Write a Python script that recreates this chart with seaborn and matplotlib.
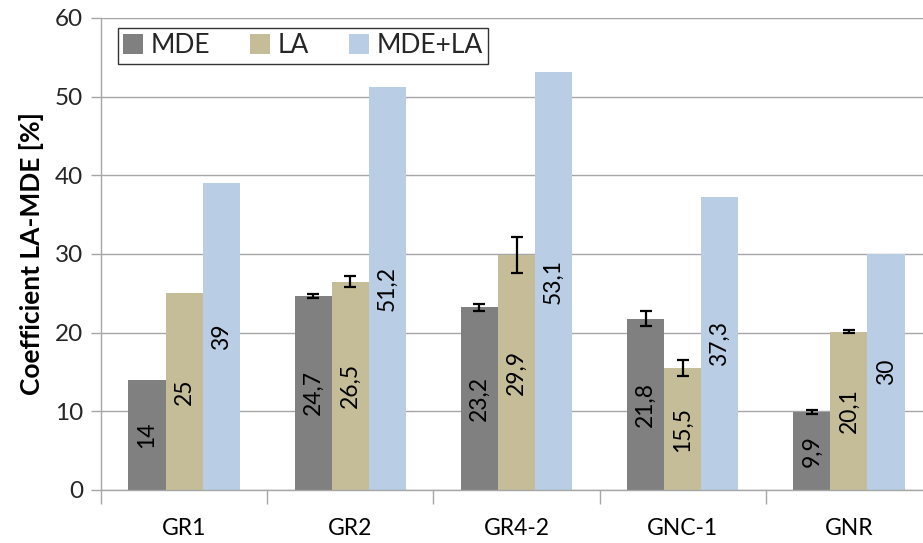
import matplotlib
matplotlib.use("Agg")
import matplotlib.pyplot as plt
import seaborn as sns
import pandas as pd
from matplotlib.ticker import FixedLocator, NullFormatter

# Coefficient values per sample and method
categories = ["GR1", "GR2", "GR4-2", "GNC-1", "GNR"]
series_names = ["MDE", "LA", "MDE+LA"]
mde_values = [14, 24.7, 23.2, 21.8, 9.9]
la_values = [25, 26.5, 29.9, 15.5, 20.1]
mde_la_values = [39, 51.2, 53.1, 37.3, 30]
mde_errors = [0, 0.25, 0.4, 0.9, 0.3]
la_errors = [0, 0.7, 2.3, 1.05, 0.2]
mde_la_errors = [0, 0, 0, 0, 0]
y_ticks = [0, 10, 20, 30, 40, 50, 60]

colors = ["#808080", "#C4BD97", "#B9CDE5"]

sns.set_theme(style="white")
plt.rcParams["font.family"] = ["Lato", "DejaVu Sans"]

values_by_series = [mde_values, la_values, mde_la_values]
errors_by_series = [mde_errors, la_errors, mde_la_errors]

df = pd.DataFrame({
    "Sample": [c for _ in series_names for c in categories],
    "Series": [s for s in series_names for _ in categories],
    "Value": [v for vals in values_by_series for v in vals],
})

fig = plt.figure(figsize=(9.23, 5.43), dpi=100)
ax = fig.add_axes([101 / 923, 53 / 543, 822 / 923, 472 / 543])

sns.barplot(data=df, x="Sample", y="Value", hue="Series", order=categories,
            hue_order=series_names, palette=colors, saturation=1,
            width=0.67, errorbar=None, linewidth=0, ax=ax)

# Error bars and value labels on each bar
for container, vals, errs in zip(ax.containers, values_by_series, errors_by_series):
    for bar, err in zip(container, errs):
        if err > 0:
            ax.errorbar(bar.get_x() + bar.get_width() / 2, bar.get_height(),
                        yerr=err, fmt="none", ecolor="black", elinewidth=1.6,
                        capsize=4.6, capthick=1.6, zorder=4)
    labels = [f"{v:g}".replace(".", ",") for v in vals]
    ax.bar_label(container, labels=labels, label_type="center", rotation=90,
                 fontsize=16.5, color="black")

ax.set_ylim(0, 60)
ax.set_xlim(-0.5, 4.5 - 9 / 166)
ax.set_yticks(y_ticks)
ax.tick_params(axis="y", labelsize=17.5, colors="#262626", length=7, width=1,
               color="#A6A6A6", direction="out", left=True, pad=6)
ax.tick_params(axis="x", which="major", labelsize=16.5, length=0, pad=20,
               labelcolor="black")
ax.xaxis.set_minor_locator(FixedLocator([-0.5, 0.5, 1.5, 2.5, 3.5]))
ax.xaxis.set_minor_formatter(NullFormatter())
ax.tick_params(axis="x", which="minor", length=10, width=1, color="#A6A6A6",
               bottom=True, direction="out")

ax.yaxis.grid(True, color="#A6A6A6", linewidth=1)
ax.set_axisbelow(True)
for side in ["top", "right"]:
    ax.spines[side].set_visible(False)
for side in ["left", "bottom"]:
    ax.spines[side].set_color("#A6A6A6")
    ax.spines[side].set_linewidth(1)

ax.set_xlabel("")
ax.set_ylabel("Coefficient LA-MDE [%]", fontsize=19, fontweight="bold",
              color="black", labelpad=8)

leg = ax.legend(loc="upper left", bbox_to_anchor=(17 / 822, 1 - 10 / 472),
                ncol=3, fontsize=19, frameon=True, fancybox=False,
                edgecolor="black", handlelength=0.75, handleheight=0.75,
                handletextpad=0.3, columnspacing=1.5, borderpad=0.2,
                borderaxespad=0)
leg.get_frame().set_linewidth(1)
leg.set_title(None)

fig.savefig("out.png", dpi=100)
